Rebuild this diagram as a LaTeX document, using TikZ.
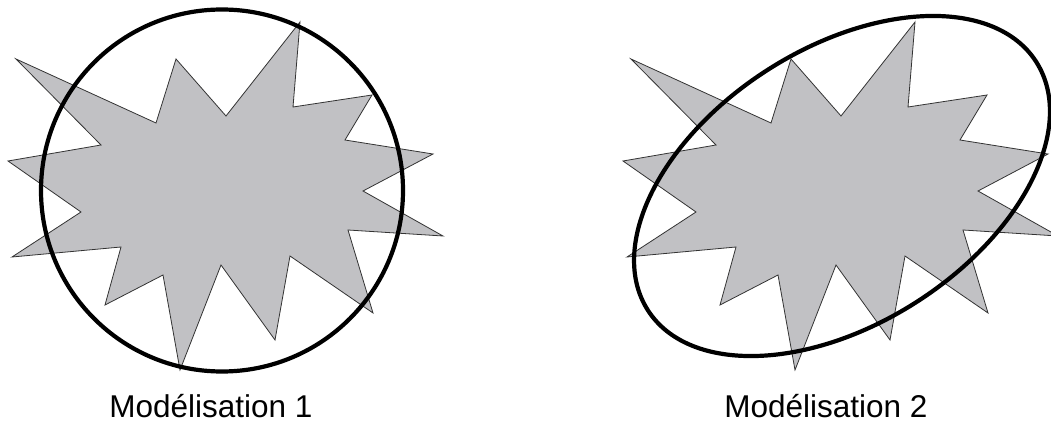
\documentclass[tikz,border=0pt]{standalone}
\usepackage{fontspec}
\setmainfont{Liberation Sans}
\usepackage{tikz}
\definecolor{burstgray}{RGB}{193,193,196}
\newcommand{\burstpath}{(16,59) -- (156,123) -- (176,59) -- (226,116) -- (300,22) -- (293,107) -- (372,95) -- (345,140) -- (433,154) -- (363,191) -- (443,236) -- (348,230) -- (373,313) -- (290,256) -- (275,340) -- (221,265) -- (180,370) -- (163,275) -- (105,305) -- (121,247) -- (12,257) -- (81,212) -- (8,161) -- (101,145) -- cycle}

\begin{document}
\begin{tikzpicture}[x=1pt,y=-1pt,
    burst/.style={fill=burstgray,draw=black!80,line width=0.8pt,line join=miter},
    outline/.style={draw=black,line width=4.2pt},
    caption/.style={anchor=base,font=\fontsize{31.5}{36}\selectfont}]
    \useasboundingbox (0,0) rectangle (1051,427);
    % left: circle
    \filldraw[burst] \burstpath;
    \draw[outline] (222,190.5) circle [radius=181pt];
    \node[caption] (lab1) at (211,417) {Modélisation 1};
    % right: tilted ellipse
    \filldraw[burst,xshift=615pt] \burstpath;
    \draw[outline,rotate around={32.6:(842,186)}] (842,186) ellipse [x radius=230.5pt,y radius=137.9pt];
    \node[caption] (lab2) at (826,417) {Modélisation 2};
\end{tikzpicture}
\end{document}
